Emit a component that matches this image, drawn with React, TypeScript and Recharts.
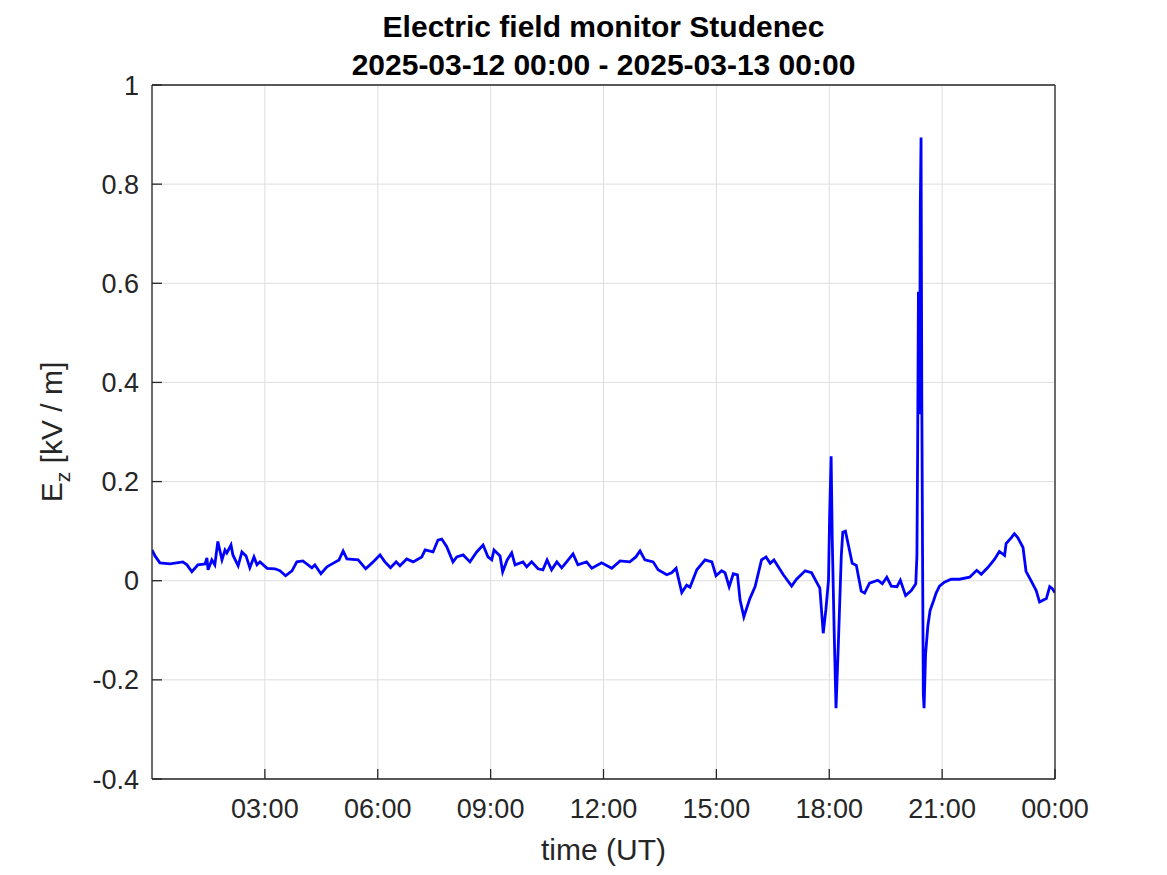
import React from "react";
import { LineChart, Line, XAxis, YAxis, CartesianGrid } from "recharts";

// time in hours (UT) since 2025-03-12 00:00
const hours: number[] = [
  0.0, 0.08, 0.21, 0.48, 0.82, 0.93, 1.06, 1.22, 1.41, 1.46, 1.49, 1.59, 1.67, 1.75, 1.86, 1.94, 1.99, 2.1, 2.15, 2.29,
  2.39, 2.5, 2.6, 2.71, 2.79, 2.87, 3.06, 3.27, 3.4, 3.55, 3.72, 3.85, 4.01, 4.25, 4.33, 4.49, 4.65, 4.81, 4.97, 5.08,
  5.18, 5.48, 5.68, 5.85, 6.06, 6.19, 6.34, 6.49, 6.59, 6.77, 6.94, 7.17, 7.26, 7.47, 7.6, 7.7, 7.83, 8.0, 8.1, 8.27,
  8.45, 8.63, 8.8, 8.93, 9.03, 9.09, 9.25, 9.32, 9.44, 9.56, 9.65, 9.86, 9.96, 10.09, 10.26, 10.39, 10.5, 10.62, 10.76, 10.89,
  11.02, 11.19, 11.32, 11.55, 11.69, 11.95, 12.22, 12.44, 12.7, 12.86, 12.97, 13.1, 13.32, 13.45, 13.68, 13.81, 13.93, 14.08, 14.21, 14.3,
  14.48, 14.7, 14.88, 14.99, 15.14, 15.23, 15.34, 15.45, 15.56, 15.63, 15.73, 15.89, 16.03, 16.2, 16.32, 16.43, 16.53, 16.78, 17.0, 17.13,
  17.36, 17.53, 17.67, 17.75, 17.84, 17.91, 17.98, 18.01, 18.05, 18.08, 18.13, 18.18, 18.24, 18.32, 18.36, 18.43, 18.5, 18.61, 18.72, 18.85,
  18.94, 19.07, 19.29, 19.41, 19.53, 19.65, 19.8, 19.89, 20.03, 20.18, 20.3, 20.33, 20.35, 20.37, 20.4, 20.42, 20.44, 20.46, 20.48, 20.5,
  20.52, 20.56, 20.62, 20.68, 20.77, 20.84, 20.93, 21.06, 21.24, 21.46, 21.73, 21.92, 22.04, 22.22, 22.39, 22.52, 22.66, 22.7, 22.84, 22.92,
  23.01, 23.15, 23.23, 23.37, 23.5, 23.59, 23.77, 23.86, 23.93, 24.0,
];

// vertical electric field E_z in kV/m
const ez: number[] = [
  0.062, 0.05, 0.036, 0.034, 0.038, 0.032, 0.018, 0.032, 0.034, 0.046, 0.022, 0.042, 0.032, 0.079, 0.042, 0.062, 0.056, 0.072, 0.052, 0.03,
  0.058, 0.05, 0.026, 0.048, 0.032, 0.038, 0.025, 0.024, 0.02, 0.01, 0.02, 0.038, 0.04, 0.026, 0.032, 0.014, 0.028, 0.035, 0.042, 0.06,
  0.044, 0.042, 0.024, 0.036, 0.052, 0.038, 0.026, 0.038, 0.03, 0.044, 0.038, 0.048, 0.062, 0.058, 0.082, 0.084, 0.069, 0.038, 0.048, 0.052,
  0.038, 0.058, 0.072, 0.048, 0.042, 0.062, 0.05, 0.018, 0.042, 0.056, 0.032, 0.038, 0.028, 0.038, 0.024, 0.022, 0.042, 0.022, 0.038, 0.026,
  0.038, 0.054, 0.032, 0.038, 0.025, 0.036, 0.025, 0.04, 0.038, 0.048, 0.06, 0.042, 0.038, 0.022, 0.012, 0.016, 0.025, -0.024, -0.009, -0.013,
  0.022, 0.042, 0.038, 0.01, 0.02, 0.016, -0.012, 0.014, 0.012, -0.039, -0.073, -0.036, -0.012, 0.042, 0.048, 0.035, 0.042, 0.012, -0.011, 0.003,
  0.02, 0.016, -0.004, -0.015, -0.106, -0.059, 0.001, 0.13, 0.251, 0.083, -0.1, -0.257, -0.132, 0.05, 0.098, 0.1, 0.075, 0.035, 0.031, -0.021,
  -0.025, -0.005, 0.001, -0.006, 0.007, -0.011, -0.012, 0.001, -0.03, -0.02, -0.006, 0.05, 0.272, 0.583, 0.336, 0.759, 0.894, 0.369, 0.05, -0.228,
  -0.257, -0.148, -0.092, -0.06, -0.041, -0.025, -0.011, -0.003, 0.003, 0.003, 0.007, 0.021, 0.013, 0.027, 0.043, 0.059, 0.051, 0.075, 0.087, 0.095,
  0.087, 0.067, 0.019, -0.001, -0.02, -0.043, -0.036, -0.012, -0.016, -0.024,
];

const xTicks: number[] = [3, 6, 9, 12, 15, 18, 21, 24];
const yTicks: number[] = [-0.4, -0.2, 0, 0.2, 0.4, 0.6, 0.8, 1];

const titleLine1 = "Electric field monitor Studenec";
const titleLine2 = "2025-03-12 00:00 - 2025-03-13 00:00";
const xLabel = "time (UT)";

const data = hours.map((h, i) => ({ t: h, v: ez[i] }));

const FONT = '"Liberation Sans", Arial, Helvetica, sans-serif';
const AXIS = "#262626";

const fmtHour = (h: number) => {
  const hh = Math.round(h) % 24;
  return (hh < 10 ? "0" : "") + hh + ":00";
};
const fmtY = (v: number) => {
  const r = Math.round(v * 10) / 10;
  return r === 0 ? "0" : String(r);
};

const XLabelContent = (props: any) => {
  const vb = props.viewBox || {};
  const cx = vb.x + vb.width / 2;
  return (
    <text x={cx} y={vb.y + 81} textAnchor="middle" fontFamily={FONT} fontSize={30} fill={AXIS}>
      {xLabel}
    </text>
  );
};

const YLabelContent = (props: any) => {
  const vb = props.viewBox || {};
  const cy = vb.y + vb.height / 2;
  const x = 62;
  return (
    <text
      x={x}
      y={cy}
      transform={`rotate(-90, ${x}, ${cy})`}
      textAnchor="middle"
      fontFamily={FONT}
      fontSize={30}
      fill={AXIS}
    >
      <tspan>E</tspan>
      <tspan dy={8} fontSize={21}>z</tspan>
      <tspan dy={-8}>{"  [kV / m]"}</tspan>
    </text>
  );
};

export default function App() {
  return (
    <div style={{ position: "absolute", left: 0, top: 0, width: 1167, height: 875, background: "#fff" }}>
      <div
        style={{
          position: "absolute",
          left: 152,
          width: 903,
          top: 8,
          textAlign: "center",
          fontFamily: FONT,
          fontWeight: "bold",
          fontSize: 30,
          lineHeight: "38px",
          color: "#000",
          whiteSpace: "nowrap",
        }}
      >
        <div>{titleLine1}</div>
        <div>{titleLine2}</div>
      </div>
      <LineChart
        width={1167}
        height={875}
        data={data}
        margin={{ top: 75, right: 102, bottom: 6, left: 52 }}
      >
        <CartesianGrid stroke="#dedede" strokeWidth={1} />
        <XAxis
          xAxisId={0}
          dataKey="t"
          type="number"
          domain={[0, 24]}
          ticks={xTicks}
          allowDataOverflow
          tickFormatter={fmtHour}
          height={90}
          stroke={AXIS}
          strokeWidth={1.3}
          tickSize={-10}
          tickMargin={30}
          tick={{ fontFamily: FONT, fontSize: 27, fill: AXIS }}
          label={{ content: XLabelContent }}
        />
        <XAxis
          xAxisId="top"
          orientation="top"
          type="number"
          domain={[0, 24]}
          ticks={xTicks}
          allowDataOverflow
          height={10}
          stroke={AXIS}
          strokeWidth={1.3}
          tickSize={-10}
          tick={false}
        />
        <YAxis
          yAxisId={0}
          type="number"
          domain={[-0.4, 1]}
          ticks={yTicks}
          allowDataOverflow
          tickFormatter={fmtY}
          width={100}
          stroke={AXIS}
          strokeWidth={1.3}
          tickSize={-10}
          tickMargin={23}
          tick={{ fontFamily: FONT, fontSize: 27, fill: AXIS }}
          label={{ content: YLabelContent }}
        />
        <YAxis
          yAxisId="right"
          orientation="right"
          type="number"
          domain={[-0.4, 1]}
          ticks={yTicks}
          allowDataOverflow
          width={10}
          stroke={AXIS}
          strokeWidth={1.3}
          tickSize={-10}
          tick={false}
        />
        <Line
          xAxisId={0}
          yAxisId={0}
          type="linear"
          dataKey="v"
          stroke="#0000ff"
          strokeWidth={2.8}
          dot={false}
          activeDot={false}
          isAnimationActive={false}
        />
      </LineChart>
    </div>
  );
}
